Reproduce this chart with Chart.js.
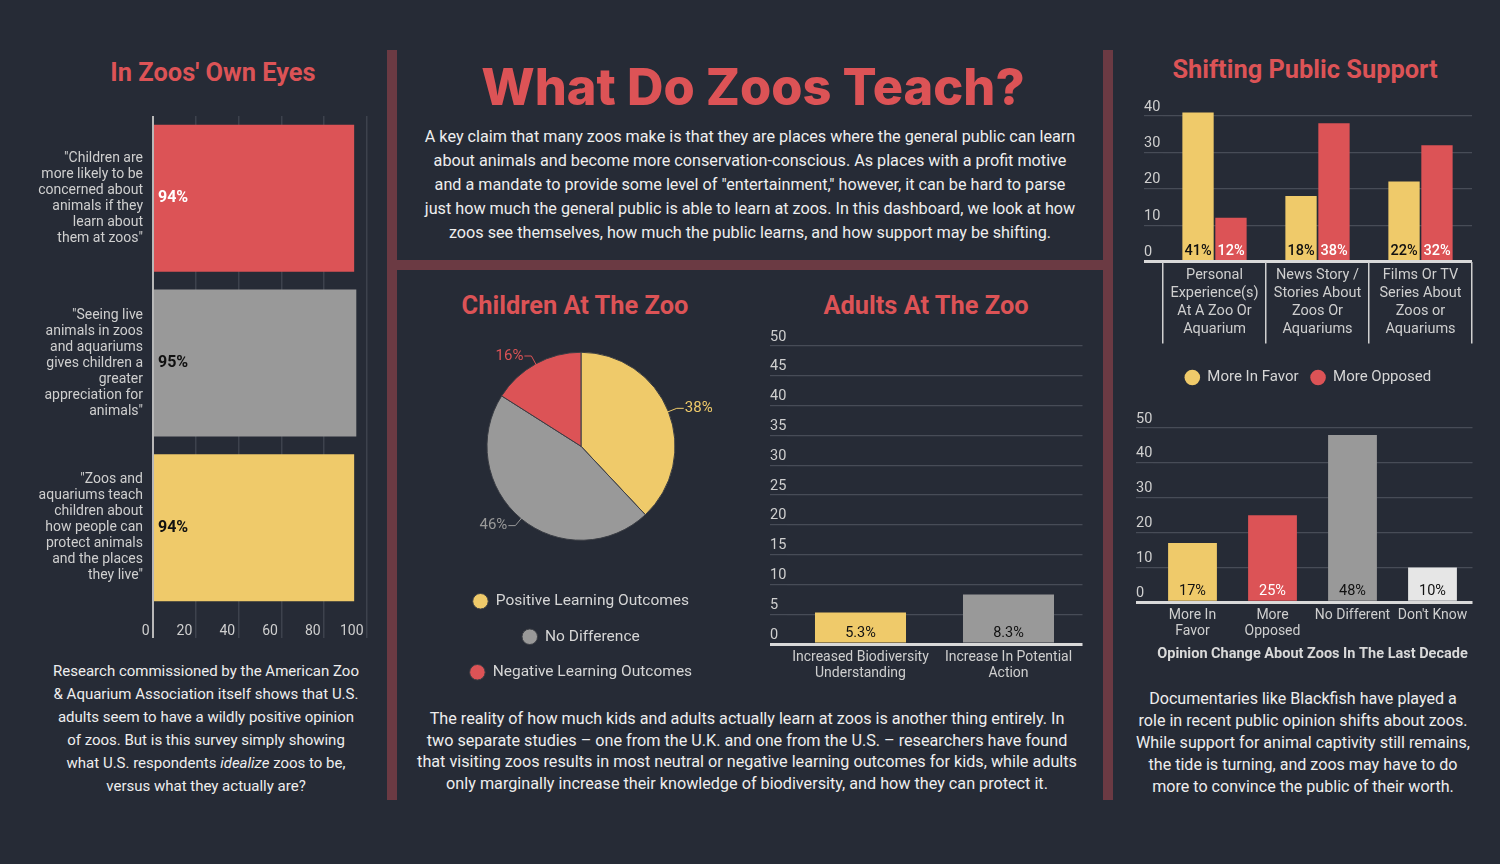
<!DOCTYPE html>
<html>
<head>
<meta charset="utf-8">
<script src="https://cdn.jsdelivr.net/npm/chart.js"></script>
<style>
html,body{margin:0;padding:0;background:#262b36;}
body{width:1500px;height:864px;position:relative;overflow:hidden;font-family:Roboto,sans-serif;}
.bar{position:absolute;background:#6b3a43;}
.t{position:absolute;color:#dc5356;font-weight:700;font-size:25.4px;line-height:30px;white-space:nowrap;transform:translateX(-50%);}
.p{position:absolute;color:#eeeeee;text-align:center;white-space:nowrap;transform:translateX(-50%);}
canvas{position:absolute;}
</style>
</head>
<body>
<div class="bar" style="left:387px;top:50px;width:10px;height:750px"></div>
<div class="bar" style="left:1103px;top:50px;width:10px;height:750px"></div>
<div class="bar" style="left:397px;top:260px;width:706px;height:10px"></div>

<div class="t" style="left:213px;top:57px">In Zoos' Own Eyes</div>
<div class="t" style="left:1305px;top:54px">Shifting Public Support</div>
<div class="t" style="left:575px;top:290px">Children At The Zoo</div>
<div class="t" style="left:926px;top:290px">Adults At The Zoo</div>
<div class="t" style="left:753px;top:57px;font-family:Inter,sans-serif;font-weight:800;font-size:50.5px;line-height:60px;">What Do Zoos Teach?</div>

<div class="p" style="left:750px;top:125px;font-size:16.2px;line-height:24px;">A key claim that many zoos make is that they are places where the general public can learn<br>about animals and become more conservation-conscious. As places with a profit motive<br>and a mandate to provide some level of "entertainment," however, it can be hard to parse<br>just how much the general public is able to learn at zoos. In this dashboard, we look at how<br>zoos see themselves, how much the public learns, and how support may be shifting.</div>
<div class="p" style="left:747px;top:708px;font-size:16.2px;line-height:21.5px;">The reality of how much kids and adults actually learn at zoos is another thing entirely. In<br>two separate studies – one from the U.K. and one from the U.S. – researchers have found<br>that visiting zoos results in most neutral or negative learning outcomes for kids, while adults<br>only marginally increase their knowledge of biodiversity, and how they can protect it.</div>
<div class="p" style="left:206px;top:659.5px;font-size:15px;line-height:23px;">Research commissioned by the American Zoo<br>&amp; Aquarium Association itself shows that U.S.<br>adults seem to have a wildly positive opinion<br>of zoos. But is this survey simply showing<br>what U.S. respondents <i>idealize</i> zoos to be,<br>versus what they actually are?</div>
<div class="p" style="left:1303px;top:688px;font-size:16.1px;line-height:22px;">Documentaries like Blackfish have played a<br>role in recent public opinion shifts about zoos.<br>While support for animal captivity still remains,<br>the tide is turning, and zoos may have to do<br>more to convince the public of their worth.</div>

<canvas id="eyes" width="385" height="541" style="left:0px;top:100px"></canvas>
<canvas id="child" width="290" height="380" style="left:436px;top:310px"></canvas>
<canvas id="adult" width="320" height="370" style="left:770px;top:320px"></canvas>
<canvas id="shift" width="340" height="300" style="left:1144px;top:95px"></canvas>
<canvas id="opinion" width="348" height="258" style="left:1136px;top:405px"></canvas>

<script>
// ---------- DATA ----------
const eyesLabels = [
  ['"Children are','more likely to be','concerned about','animals if they','learn about','them at zoos"'],
  ['"Seeing live','animals in zoos','and aquariums','gives children a','greater','appreciation for','animals"'],
  ['"Zoos and','aquariums teach','children about','how people can','protect animals','and the places','they live"']
];
const eyesValues = [94, 95, 94];
const eyesTicks = [0, 20, 40, 60, 80, 100];

const childLabels = ['Positive Learning Outcomes', 'No Difference', 'Negative Learning Outcomes'];
const childValues = [38, 46, 16];

const adultLabels = [['Increased Biodiversity','Understanding'], ['Increase In Potential','Action']];
const adultValues = [5.3, 8.3];
const adultTicks = [0, 5, 10, 15, 20, 25, 30, 35, 40, 45, 50];

const shiftLabels = [
  ['Personal','Experience(s)','At A Zoo Or','Aquarium'],
  ['News Story /','Stories About','Zoos Or','Aquariums'],
  ['Films Or TV','Series About','Zoos or','Aquariums']
];
const shiftSeries = ['More In Favor', 'More Opposed'];
const favorValues = [41, 18, 22];
const opposedValues = [12, 38, 32];
const shiftTicks = [0, 10, 20, 30, 40];

const opinionLabels = [['More In','Favor'], ['More','Opposed'], 'No Different', "Don't Know"];
const opinionValues = [17, 25, 48, 10];
const opinionTicks = [0, 10, 20, 30, 40, 50];
const opinionTitle = 'Opinion Change About Zoos In The Last Decade';

// ---------- STYLE ----------
const RED = '#dc5356', YEL = '#efca6a', GRY = '#999999', LGT = '#e6e6e6';
const TXT = '#cfcfcf', GRID = '#474c57', BASE = '#d9d9d9';

Chart.defaults.font.family = 'Roboto';
Chart.defaults.color = TXT;

function noPad(s) { s.paddingTop = 0; s.paddingBottom = 0; s.paddingLeft = 0; s.paddingRight = 0; }

const barLabels = {
  id: 'barLabels',
  afterDatasetsDraw(chart, args, opts) {
    if (!opts || !opts.enabled) return;
    const ctx = chart.ctx;
    ctx.save();
    chart.data.datasets.forEach((ds, di) => {
      chart.getDatasetMeta(di).data.forEach((el, i) => {
        const p = el.getProps(['x', 'y', 'base'], true);
        ctx.font = opts.labelFont;
        ctx.fillStyle = opts.labelColors[di][i];
        ctx.textBaseline = 'middle';
        const txt = ds.data[i] + '%';
        if (opts.horizontal) {
          ctx.textAlign = 'left';
          ctx.fillText(txt, p.base + opts.offset, p.y);
        } else {
          ctx.textAlign = 'center';
          ctx.fillText(txt, p.x, p.base - opts.offset);
        }
      });
    });
    ctx.restore();
  }
};

const pieLabels = {
  id: 'pieLabels',
  afterDatasetsDraw(chart, args, opts) {
    if (!opts || !opts.enabled) return;
    const ctx = chart.ctx;
    const ds = chart.data.datasets[0];
    ctx.save();
    chart.getDatasetMeta(0).data.forEach((arc, i) => {
      const p = arc.getProps(['x', 'y', 'startAngle', 'endAngle', 'outerRadius'], true);
      const a = (p.startAngle + p.endAngle) / 2;
      const dx = Math.cos(a), dy = Math.sin(a);
      const r = p.outerRadius;
      const x1 = p.x + dx * (r - 1), y1 = p.y + dy * (r - 1);
      const x2 = p.x + dx * (r + 9), y2 = p.y + dy * (r + 9);
      const s = dx >= 0 ? 1 : -1;
      const x3 = x2 + s * 7;
      const col = ds.backgroundColor[i];
      ctx.strokeStyle = col;
      ctx.lineWidth = 1;
      ctx.beginPath();
      ctx.moveTo(x1, y1); ctx.lineTo(x2, y2); ctx.lineTo(x3, y2);
      ctx.stroke();
      ctx.fillStyle = col;
      ctx.font = '15px Roboto';
      ctx.textAlign = s > 0 ? 'left' : 'right';
      ctx.textBaseline = 'middle';
      ctx.fillText(ds.data[i] + '%', x3 + s * 1, y2);
    });
    ctx.restore();
  }
};
Chart.register(barLabels, pieLabels);

function yAxis(ticksArr, width, max) {
  return {
    min: 0, max: max,
    afterBuildTicks: s => { s.ticks = ticksArr.map(v => ({ value: v })); },
    afterFit: s => { s.width = width; noPad(s); },
    grid: {
      color: c => (c.tick && c.tick.value === 0) ? BASE : GRID,
      lineWidth: c => (c.tick && c.tick.value === 0) ? 3 : 1.2,
      drawTicks: true, tickLength: width
    },
    border: { display: false },
    ticks: { crossAlign: 'far', labelOffset: -9, padding: 0, color: TXT, font: { size: 14.5 } }
  };
}

// ---------- Chart 1: In Zoos' Own Eyes ----------
new Chart(document.getElementById('eyes'), {
  type: 'bar',
  data: { labels: eyesLabels, datasets: [{ data: eyesValues, backgroundColor: [RED, GRY, YEL], barPercentage: 0.893, categoryPercentage: 1 }] },
  options: {
    indexAxis: 'y', responsive: false, animation: false,
    layout: { padding: { top: 16, right: 18, left: 0, bottom: 0 } },
    plugins: {
      legend: { display: false }, tooltip: { enabled: false },
      barLabels: { enabled: true, horizontal: true, offset: 4, labelFont: 'bold 16px Roboto', labelColors: [['#ffffff', '#111111', '#111111']] }
    },
    scales: {
      x: {
        min: 0, max: 100,
        afterBuildTicks: s => { s.ticks = eyesTicks.map(v => ({ value: v })); },
        afterFit: s => { s.height = 31; noPad(s); },
        grid: {
          color: c => c.index === 0 ? '#b8b8b8' : '#3d424d',
          lineWidth: c => c.index === 0 ? 2 : 1.5,
          drawTicks: true, tickLength: 28
        },
        border: { display: false },
        ticks: { align: 'end', padding: -15, color: TXT, font: { size: 14 }, callback: v => v + ' ' }
      },
      y: {
        afterFit: s => { s.width = 153; noPad(s); },
        grid: { display: false, drawTicks: false },
        border: { display: false },
        ticks: { padding: 10, color: TXT, autoSkip: false, font: { size: 14, lineHeight: 16 / 14 } }
      }
    }
  }
});

// ---------- Chart 2: Children At The Zoo ----------
new Chart(document.getElementById('child'), {
  type: 'pie',
  data: { labels: childLabels, datasets: [{ data: childValues, backgroundColor: [YEL, GRY, RED], borderColor: '#3a3d44', borderWidth: 1 }] },
  options: {
    responsive: false, animation: false, radius: 94,
    layout: { padding: { top: 9, bottom: 0 } },
    plugins: {
      tooltip: { enabled: false },
      pieLabels: { enabled: true },
      legend: {
        position: 'bottom',
        labels: { usePointStyle: true, pointStyle: 'circle', boxWidth: 15, boxHeight: 11, padding: 20, color: '#d6d6d6', font: { size: 15.5 } }
      }
    }
  }
});

// ---------- Chart 3: Adults At The Zoo ----------
new Chart(document.getElementById('adult'), {
  type: 'bar',
  data: { labels: adultLabels, datasets: [{ data: adultValues, backgroundColor: [YEL, GRY], barPercentage: 0.615, categoryPercentage: 1 }] },
  options: {
    responsive: false, animation: false,
    layout: { padding: { top: 26, right: 7.5, left: 0, bottom: 0 } },
    plugins: {
      legend: { display: false }, tooltip: { enabled: false },
      barLabels: { enabled: true, offset: 9, labelFont: '14.5px Roboto', labelColors: [['#111111', '#111111']] }
    },
    scales: {
      y: yAxis(adultTicks, 16.5, 50),
      x: {
        afterFit: s => { s.height = 46; noPad(s); },
        grid: { display: false, drawTicks: false },
        border: { display: false },
        ticks: { padding: 5, color: TXT, maxRotation: 0, autoSkip: false, font: { size: 14, lineHeight: 16 / 14 } }
      }
    }
  }
});

// ---------- Chart 4: Shifting Public Support ----------
new Chart(document.getElementById('shift'), {
  type: 'bar',
  data: {
    labels: shiftLabels,
    datasets: [
      { label: shiftSeries[0], data: favorValues, backgroundColor: YEL, barPercentage: 0.95, categoryPercentage: 0.64 },
      { label: shiftSeries[1], data: opposedValues, backgroundColor: RED, barPercentage: 0.95, categoryPercentage: 0.64 }
    ]
  },
  options: {
    responsive: false, animation: false,
    layout: { padding: { top: 13.8, right: 12, left: 0, bottom: 0 } },
    plugins: {
      tooltip: { enabled: false },
      legend: {
        position: 'bottom',
        labels: { usePointStyle: true, pointStyle: 'circle', boxWidth: 15, boxHeight: 11, padding: 12, color: '#d6d6d6', font: { size: 15 } }
      },
      barLabels: { enabled: true, offset: 9, labelFont: '500 14.5px Roboto', labelColors: [['#111111', '#111111', '#111111'], ['#ffffff', '#ffffff', '#ffffff']] }
    },
    scales: {
      y: yAxis(shiftTicks, 19, 42),
      x: {
        afterFit: s => { s.height = 96.5; noPad(s); },
        grid: { display: true, drawOnChartArea: false, drawTicks: true, tickLength: 82, color: '#d0d0d0', lineWidth: 1.5, offset: true },
        border: { display: false },
        ticks: { padding: -77, color: TXT, maxRotation: 0, autoSkip: false, font: { size: 14.5, lineHeight: 18 / 14.5 } }
      }
    }
  }
});

// ---------- Chart 5: Opinion Change ----------
new Chart(document.getElementById('opinion'), {
  type: 'bar',
  data: { labels: opinionLabels, datasets: [{ data: opinionValues, backgroundColor: [YEL, RED, GRY, LGT], barPercentage: 0.61, categoryPercentage: 1 }] },
  options: {
    responsive: false, animation: false,
    layout: { padding: { top: 23, right: 11.5, left: 0, bottom: 0 } },
    plugins: {
      legend: { display: false }, tooltip: { enabled: false },
      barLabels: { enabled: true, offset: 9, labelFont: '14.5px Roboto', labelColors: [['#111111', '#ffffff', '#111111', '#111111']] }
    },
    scales: {
      y: yAxis(opinionTicks, 16.5, 50),
      x: {
        afterFit: s => { s.height = 60.7; noPad(s); },
        grid: { display: false, drawTicks: false },
        border: { display: false },
        title: { display: true, text: opinionTitle, color: '#d9d9d9', font: { size: 14.5, weight: 'bold' }, padding: 0 },
        ticks: { padding: 5, color: TXT, maxRotation: 0, autoSkip: false, font: { size: 14, lineHeight: 16 / 14 } }
      }
    }
  }
});
</script>
</body>
</html>
